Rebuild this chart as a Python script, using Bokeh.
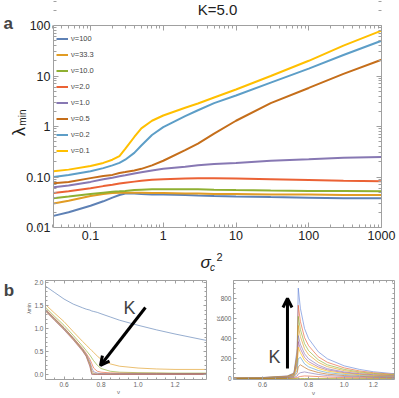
import math
from bokeh.plotting import figure
from bokeh.models import (FixedTicker, LogAxis, LinearAxis, Label, Arrow, OpenHead,
                          PrintfTickFormatter)
from bokeh.layouts import column, row
from bokeh.embed import file_html
from bokeh.resources import INLINE

FONT = "Liberation Sans"

# ---------------- panel a data ----------------
sigma2 = [0.031, 0.05, 0.1, 0.15, 0.2, 0.25, 0.3, 0.4, 0.5, 0.7, 1, 2, 3, 5, 10, 30, 100, 300, 1000]
nu_labels = ["ν=100", "ν=33.3", "ν=10.0", "ν=2.0", "ν=1.0", "ν=0.5", "ν=0.2", "ν=0.1"]
lam_nu100 = [0.017, 0.02, 0.027, 0.033, 0.039, 0.044, 0.047, 0.047, 0.046, 0.045, 0.045, 0.044, 0.043, 0.042, 0.041, 0.04, 0.039, 0.038, 0.038]
lam_nu33 = [0.03, 0.034, 0.042, 0.046, 0.048, 0.049, 0.049, 0.049, 0.049, 0.048, 0.048, 0.047, 0.047, 0.046, 0.046, 0.045, 0.045, 0.044, 0.044]
lam_nu10 = [0.038, 0.041, 0.046, 0.049, 0.051, 0.052, 0.053, 0.055, 0.056, 0.057, 0.057, 0.057, 0.057, 0.056, 0.055, 0.054, 0.053, 0.053, 0.052]
lam_nu2 = [0.048, 0.052, 0.06, 0.066, 0.07, 0.074, 0.077, 0.081, 0.084, 0.088, 0.09, 0.093, 0.094, 0.094, 0.093, 0.09, 0.087, 0.084, 0.082]
lam_nu1 = [0.063, 0.068, 0.08, 0.09, 0.097, 0.103, 0.108, 0.117, 0.124, 0.135, 0.145, 0.16, 0.17, 0.18, 0.19, 0.21, 0.225, 0.24, 0.25]
lam_nu05 = [0.075, 0.08, 0.095, 0.105, 0.11, 0.12, 0.125, 0.135, 0.145, 0.17, 0.21, 0.34, 0.46, 0.72, 1.3, 2.9, 5.8, 11, 21]
lam_nu02 = [0.10, 0.11, 0.13, 0.15, 0.17, 0.19, 0.22, 0.3, 0.42, 0.68, 0.97, 1.6, 2.1, 2.9, 4.1, 7.4, 14, 26, 50]
lam_nu01 = [0.13, 0.14, 0.165, 0.19, 0.22, 0.26, 0.36, 0.62, 0.92, 1.3, 1.65, 2.35, 2.85, 3.75, 5.4, 10, 20, 40, 79]
series_a = [lam_nu100, lam_nu33, lam_nu10, lam_nu2, lam_nu1, lam_nu05, lam_nu02, lam_nu01]
colors_a = ["#5E81B5", "#E19C24", "#8FB032", "#EB6235", "#8778B3", "#C56E1A", "#5D9EC7", "#FFBF00"]

y_ticks_a = [0.01, 0.1, 1, 10, 100]
x_ticks_a = [0.1, 1, 10, 100, 1000]

# ---------------- panel b (left) data ----------------
nu_left = [0.5, 0.55, 0.6, 0.65, 0.7, 0.72, 0.74, 0.75, 0.76, 0.78, 0.8, 0.85, 0.9, 1.0, 1.1, 1.2, 1.37]
lam_K = [
    [1.92, 1.78, 1.64, 1.53, 1.45, 1.42, 1.40, 1.38, 1.37, 1.35, 1.32, 1.25, 1.18, 1.07, 0.97, 0.88, 0.74],
    [1.52, 1.33, 1.15, 0.93, 0.72, 0.64, 0.56, 0.52, 0.48, 0.40, 0.33, 0.23, 0.18, 0.14, 0.12, 0.11, 0.11],
    [1.46, 1.26, 1.07, 0.85, 0.62, 0.52, 0.42, 0.36, 0.30, 0.20, 0.13, 0.07, 0.05, 0.04, 0.035, 0.03, 0.03],
    [1.42, 1.22, 1.02, 0.80, 0.57, 0.46, 0.33, 0.24, 0.14, 0.07, 0.05, 0.035, 0.03, 0.025, 0.025, 0.02, 0.02],
    [1.41, 1.21, 1.01, 0.79, 0.55, 0.44, 0.28, 0.15, 0.06, 0.03, 0.02, 0.015, 0.015, 0.015, 0.015, 0.015, 0.015],
    [1.40, 1.20, 1.00, 0.78, 0.54, 0.42, 0.24, 0.08, 0.02, 0.01, 0.01, 0.01, 0.01, 0.01, 0.01, 0.01, 0.01],
    [1.39, 1.19, 0.99, 0.77, 0.53, 0.41, 0.21, 0.03, 0.005, 0.005, 0.005, 0.005, 0.005, 0.005, 0.005, 0.005, 0.005],
    [1.38, 1.18, 0.98, 0.76, 0.52, 0.40, 0.19, 0.01, 0.0, 0.0, 0.0, 0.0, 0.0, 0.0, 0.0, 0.0, 0.0],
    [1.38, 1.17, 0.97, 0.75, 0.51, 0.39, 0.17, 0.0, 0.0, 0.0, 0.0, 0.0, 0.0, 0.0, 0.0, 0.0, 0.0],
]
colors_left = ["#5E81B5", "#E19C24", "#8FB032", "#EB6235", "#8778B3", "#C56E1A", "#5D9EC7", "#FFBF00", "#A5609D"]

# ---------------- panel b (right) data ----------------
nu_right = [0.5, 0.6, 0.7, 0.73, 0.745, 0.75, 0.76, 0.78, 0.8, 0.85, 0.9, 1.0, 1.1, 1.2, 1.37]
rho_K = [
    [10, 15, 30, 60, 300, 900, 700, 500, 400, 270, 200, 130, 95, 72, 52],
    [10, 14, 28, 55, 260, 730, 570, 410, 330, 220, 165, 110, 80, 62, 46],
    [9, 13, 26, 50, 230, 620, 490, 350, 280, 190, 140, 95, 70, 55, 41],
    [9, 12, 24, 46, 200, 530, 420, 300, 240, 165, 122, 83, 62, 49, 37],
    [8, 11, 22, 42, 170, 430, 345, 250, 200, 138, 102, 70, 53, 42, 32],
    [8, 11, 20, 38, 150, 370, 300, 215, 172, 120, 90, 62, 47, 37, 29],
    [7, 10, 18, 34, 130, 315, 260, 185, 150, 104, 78, 55, 42, 33, 26],
    [6, 9, 16, 28, 90, 200, 215, 150, 120, 84, 63, 45, 34, 27, 21],
    [5, 8, 13, 22, 60, 120, 140, 115, 92, 64, 48, 34, 26, 21, 17],
    [4, 6, 10, 15, 30, 50, 62, 70, 62, 45, 34, 25, 20, 16, 13],
    [3, 4, 6, 9, 14, 20, 25, 30, 29, 24, 19, 14, 12, 10, 9],
    [2, 2, 3, 3, 4, 4, 4, 4, 4, 4, 4, 3, 3, 3, 3],
]
colors_right = ["#6685D9", "#EB6235", "#8FB032", "#E19C24", "#8778B3", "#A5609D", "#FFBF00",
                "#5D9EC7", "#C56E1A", "#8778B3", "#EB6235", "#929600"]

GRAY = "#a0a0a0"


def canvas_range(v_a, v_b, px_a, px_b, c_a, c_b, log=False):
    """Data range spanning canvas pixels c_a..c_b, given the plot box v_a at px_a, v_b at px_b."""
    if log:
        v_a, v_b = math.log10(v_a), math.log10(v_b)
    k = (v_b - v_a) / (px_b - px_a)
    lo, hi = v_a + (c_a - px_a) * k, v_a + (c_b - px_a) * k
    lo, hi = min(lo, hi), max(lo, hi)
    if log:
        return 10 ** lo, 10 ** hi
    return lo, hi


def make_frame_axes(fig, axcls_x, axcls_y, xlim, ylim, xticks, xminor, yticks, yminor,
                    xfmt, yfmt, size, color, tick_in, minor_in, standoff):
    made = []
    specs = [("left", axcls_y, xlim[0], ylim, yticks, yminor, yfmt, True),
             ("right", axcls_y, xlim[1], ylim, yticks, yminor, None, False),
             ("below", axcls_x, ylim[0], xlim, xticks, xminor, xfmt, True),
             ("above", axcls_x, ylim[1], xlim, xticks, xminor, None, False)]
    for side, cls, loc, bnds, tks, mnr, fmt, show in specs:
        ax = cls(fixed_location=loc, bounds=bnds,
                 ticker=FixedTicker(ticks=tks, minor_ticks=mnr))
        if fmt is not None:
            ax.formatter = fmt
        ax.axis_line_color = GRAY
        ax.major_tick_line_color = GRAY
        ax.minor_tick_line_color = GRAY
        ax.major_tick_in = tick_in
        ax.major_tick_out = 0
        ax.minor_tick_in = minor_in
        ax.minor_tick_out = 0
        ax.major_label_text_font = FONT
        ax.major_label_text_font_size = size
        ax.major_label_text_color = color if show else None
        ax.major_label_standoff = standoff
        fig.add_layout(ax, side)
        made.append(ax)
    return made


# ================= panel a =================
XA = (0.031, 1000)
YA = (0.01, 100)
p = figure(width=399, height=272, x_axis_type="log", y_axis_type="log",
           x_range=canvas_range(XA[0], XA[1], 53, 381, 0, 399, log=True),
           y_range=canvas_range(YA[1], YA[0], 25, 227, 0, 272, log=True),
           x_axis_location=None, y_axis_location=None,
           output_backend="svg", toolbar_location=None, min_border=0)
p.xgrid.visible = False
p.ygrid.visible = False
p.outline_line_color = None

log_minor = [m * 10.0 ** e for e in range(-2, 3) for m in range(2, 10)]
axes_a = make_frame_axes(p, LogAxis, LogAxis, XA, YA, x_ticks_a, log_minor, y_ticks_a, log_minor,
                         PrintfTickFormatter(format="%g"), PrintfTickFormatter(format="%g"),
                         "12.5px", "#222222", 5, 3, 3)
axes_a[0].major_label_overrides = {0.1: "0.10"}

for ys, c, lab in zip(series_a, colors_a, nu_labels):
    p.line(sigma2, ys, line_color=c, line_width=2, legend_label=lab)

lg = p.legend[0]
lg.location = (56, 116)
lg.margin = 0
lg.padding = 4
lg.spacing = 5
lg.label_height = 11
lg.glyph_height = 11
lg.glyph_width = 12
lg.label_standoff = 3
lg.label_text_font = FONT
lg.label_text_font_size = "7.5px"
lg.label_text_color = "#444444"
lg.background_fill_alpha = 0
lg.border_line_color = None

p.add_layout(Label(x=5.57, y=209, text="K=5.0", text_font=FONT, text_font_size="15px",
                   text_align="center", text_baseline="middle", text_color="#222222"))
p.add_layout(Label(x=0.00636, y=110, text="a", text_font=FONT, text_font_size="17px",
                   text_font_style="bold", text_align="left", text_baseline="middle"))
p.add_layout(Label(x=0.01024, y=0.8, text="λ", text_font=FONT, text_font_size="18px",
                   angle=1.5708, text_align="center", text_baseline="middle", text_color="#222222"))
p.add_layout(Label(x=0.0118, y=1.5, text="min", text_font=FONT, text_font_size="10px",
                   angle=1.5708, text_align="center", text_baseline="middle", text_color="#222222"))
p.add_layout(Label(x=3.81, y=0.002, text="σ", text_font=FONT, text_font_size="17px",
                   text_font_style="italic", text_align="center", text_baseline="middle",
                   text_color="#222222"))
p.add_layout(Label(x=4.74, y=0.00158, text="c", text_font=FONT, text_font_size="10px",
                   text_font_style="italic", text_align="center", text_baseline="middle",
                   text_color="#222222"))
p.add_layout(Label(x=5.92, y=0.00263, text="2", text_font=FONT, text_font_size="11px",
                   text_align="center", text_baseline="middle", text_color="#222222"))

# ================= panel b left =================
XL = (0.5, 1.37)
YL = (-0.109, 2.043)
q = figure(width=210, height=126,
           x_range=canvas_range(XL[0], XL[1], 45, 206, 0, 210),
           y_range=canvas_range(YL[1], YL[0], 8, 107, 0, 126),
           x_axis_location=None, y_axis_location=None,
           output_backend="svg", toolbar_location=None, min_border=0)
q.xgrid.visible = False
q.ygrid.visible = False
q.outline_line_color = None
make_frame_axes(q, LinearAxis, LinearAxis, XL, YL,
                [0.6, 0.8, 1.0, 1.2], [0.5 + 0.05 * i for i in range(18)],
                [0.0, 0.5, 1.0, 1.5, 2.0], [0.1 * i for i in range(21)],
                PrintfTickFormatter(format="%.1f"), PrintfTickFormatter(format="%.1f"),
                "6.5px", "#666666", 3, 2, 2)

for ys, c in zip(lam_K, colors_left):
    q.line(nu_left, ys, line_color=c, line_width=1, line_alpha=0.65)

q.add_layout(Arrow(end=OpenHead(size=9, line_width=3, line_color="black"),
                   x_start=1.04, y_start=1.457, x_end=0.797, y_end=0.196,
                   line_width=3, line_color="black"))
q.add_layout(Label(x=0.954, y=1.435, text="K", text_font=FONT, text_font_size="18px",
                   text_align="center", text_baseline="middle"))
q.add_layout(Label(x=0.275, y=1.826, text="b", text_font=FONT, text_font_size="17px",
                   text_font_style="bold", text_align="left", text_baseline="middle"))
q.add_layout(Label(x=0.4135, y=1.435, text="λmin", text_font=FONT, text_font_size="5px",
                   angle=1.5708, text_align="center", text_baseline="middle", text_color="#666666"))
q.add_layout(Label(x=0.895, y=-0.391, text="ν", text_font=FONT, text_font_size="6px",
                   text_align="center", text_baseline="middle", text_color="#666666"))

# ================= panel b right =================
XR = (0.5, 1.37)
YR = (-5, 975)
r = figure(width=189, height=126, x_axis_type="log",
           x_range=canvas_range(XR[0], XR[1], 23, 184, 0, 189, log=True),
           y_range=canvas_range(YR[1], YR[0], 8, 107, 0, 126),
           x_axis_location=None, y_axis_location=None,
           output_backend="svg", toolbar_location=None, min_border=0)
r.xgrid.visible = False
r.ygrid.visible = False
r.outline_line_color = None
make_frame_axes(r, LogAxis, LinearAxis, XR, YR,
                [0.6, 0.8, 1.0, 1.2], [0.5 + 0.05 * i for i in range(18)],
                [0, 200, 400, 600, 800], [50 * i for i in range(20)],
                PrintfTickFormatter(format="%.1f"), PrintfTickFormatter(format="%d"),
                "6.5px", "#666666", 3, 2, 2)

for ys, c in zip(rho_K, colors_right):
    r.line(nu_right, ys, line_color=c, line_width=1, line_alpha=0.65)

r.add_layout(Arrow(end=OpenHead(size=9, line_width=3, line_color="black"),
                   x_start=0.701, y_start=104, x_end=0.701, y_end=797,
                   line_width=3, line_color="black"))
r.add_layout(Label(x=0.646, y=213, text="K", text_font=FONT, text_font_size="18px",
                   text_align="center", text_baseline="middle"))
r.add_layout(Label(x=0.455, y=599, text="ρc", text_font=FONT, text_font_size="5px",
                   angle=1.5708, text_align="center", text_baseline="middle", text_color="#666666"))
r.add_layout(Label(x=0.825, y=-134, text="ν", text_font=FONT, text_font_size="6px",
                   text_align="center", text_baseline="middle", text_color="#666666"))

layout = column(p, row(q, r, spacing=0), spacing=0)
open("out.html", "w").write(file_html(layout, INLINE))
